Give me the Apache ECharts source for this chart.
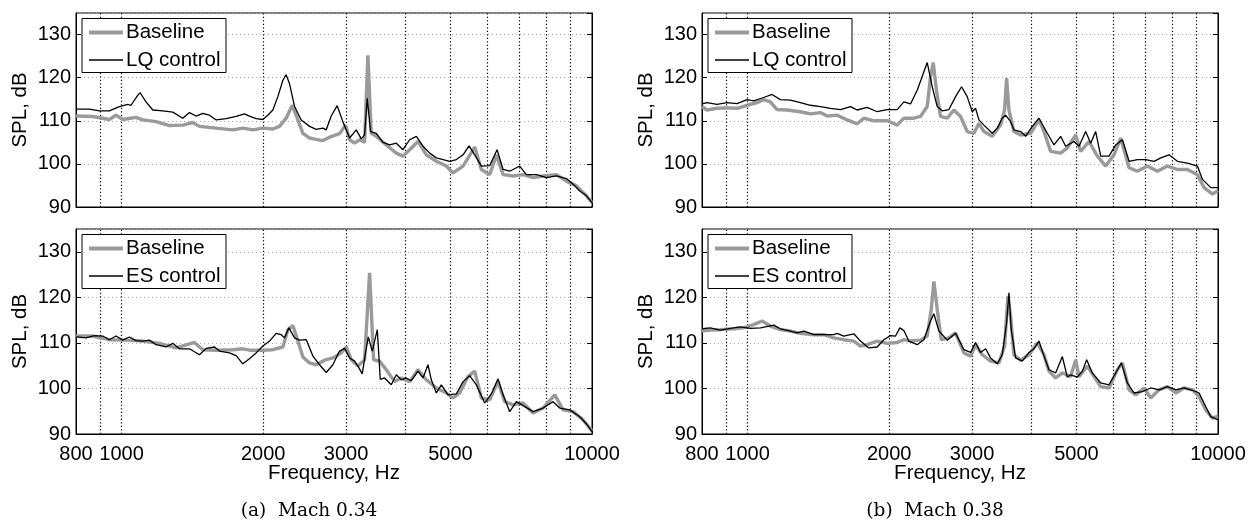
<!DOCTYPE html>
<html><head><meta charset="utf-8">
<script src="https://cdn.jsdelivr.net/npm/echarts@6/dist/echarts.min.js"></script>
<style>html,body{margin:0;padding:0;background:#fff}#c{width:1257px;height:523px}</style>
</head><body><div id="c"></div>
<script>
// ---------- data (frequency in Hz, SPL in dB) ----------
const tlBaseFreq = [800,868,942,973,1006,1073,1109,1184,1264,1349,1417,1464,1589,1724,1810,1901,1997,2097,2166,2238,2305,2370,2429,2510,2592,2678,2768,2906,2993,3053,3128,3207,3285,3339,3394,3479,3653,3837,3964,4096,4267,4445,4668,4902,5065,5320,5632,5819,6061,6263,6471,6793,7135,7494,7870,8402,8825,9266,9733,10000];
const tlBaseSpl = [111.1,111.0,110.3,111.3,110.3,110.8,110.2,109.8,108.9,109.0,109.6,108.7,108.3,107.9,108.3,107.9,108.3,108.1,108.7,110.6,113.6,110.2,107.1,106.0,105.7,105.4,106.2,107.0,109.0,105.6,104.8,105.6,105.0,125.2,107.1,106.4,104.4,102.5,101.8,103.3,105.2,102.1,100.6,99.5,97.9,99.5,103.9,98.7,97.5,102.1,97.5,97.2,97.5,96.8,97.2,97.5,96.0,94.9,92.6,91.0];
const tlLqFreq = [800,854,897,942,989,1031,1047,1082,1095,1127,1165,1223,1285,1349,1394,1440,1488,1537,1589,1668,1752,1825,1870,1932,1997,2046,2097,2149,2202,2238,2275,2332,2409,2510,2592,2678,2723,2790,2873,2954,3053,3154,3232,3285,3328,3383,3479,3594,3713,3837,3964,4096,4232,4373,4517,4668,4823,4983,5149,5320,5479,5632,5819,6061,6284,6471,6685,7019,7253,7618,8000,8402,8825,9116,9419,9733,10000];
const tlLqSpl = [112.7,112.7,112.3,112.3,113.3,113.8,113.6,115.9,116.5,114.4,112.5,112.3,112.0,110.6,111.9,111.1,111.7,111.3,110.2,110.5,111.0,111.6,111.1,110.5,110.3,111.3,112.5,115.6,119.4,120.7,118.6,113.3,110.2,108.7,108.0,108.3,107.9,111.1,113.5,109.8,106.0,107.9,105.8,106.7,115.2,107.5,107.1,105.0,104.4,104.8,103.3,105.6,106.4,104.1,102.5,101.4,101.0,100.6,101.0,102.1,104.2,102.1,99.5,99.6,103.3,98.7,98.3,99.5,97.5,97.5,96.8,97.2,96.6,95.3,93.7,92.6,91.0];

const blBaseFreq = [800,868,942,1022,1109,1204,1306,1428,1488,1589,1724,1810,1870,1997,2097,2202,2257,2313,2370,2429,2510,2592,2701,2813,2930,3003,3078,3180,3285,3367,3433,3536,3653,3805,3932,4096,4267,4445,4668,4902,5065,5232,5450,5632,5819,6061,6313,6523,6793,7135,7494,7870,8333,8681,9116,9574,10000];
const blBaseSpl = [111.5,111.5,110.7,110.6,110.4,109.9,108.9,110.1,108.5,108.4,108.5,108.7,108.4,108.4,108.5,109.1,112.9,113.8,110.4,106.9,105.6,105.2,106.2,106.7,107.8,109.1,106.3,104.9,106.3,125.4,106.3,106.0,104.1,101.5,102.3,101.5,104.1,101.9,100.1,99.0,97.9,99.0,102.6,103.8,97.9,97.5,101.5,97.1,96.4,96.8,94.6,95.7,98.6,95.3,94.9,93.1,90.7];
const blEsFreq = [800,840,875,912,942,973,1006,1039,1073,1109,1146,1184,1243,1285,1327,1394,1464,1513,1576,1615,1696,1752,1810,1870,1932,1997,2063,2131,2184,2220,2268,2332,2389,2469,2551,2635,2723,2813,2906,2979,3053,3128,3180,3248,3301,3345,3411,3496,3547,3623,3744,3837,3932,4029,4129,4267,4373,4480,4554,4668,4783,4942,5149,5320,5495,5677,5914,6110,6313,6471,6685,6907,7194,7494,7870,8266,8540,8969,9419,9733,10000];
const blEsSpl = [111.3,111.1,111.6,111.5,110.7,111.5,110.6,111.3,110.5,110.4,110.6,109.6,109.1,109.9,108.7,108.7,107.4,108.8,109.1,108.2,107.8,107.2,105.4,106.5,107.8,109.3,110.4,112.1,111.8,111.1,113.3,111.1,110.6,110.7,107.1,105.2,103.5,105.2,108.2,108.8,106.7,106.0,104.9,103.2,107.8,111.3,108.2,112.9,102.0,102.3,100.8,103.0,101.9,102.3,101.7,103.8,102.3,105.2,101.9,99.0,100.8,98.6,98.8,101.5,102.8,100.8,96.8,98.8,102.1,98.6,94.9,97.1,96.0,94.9,95.7,97.1,95.7,95.3,93.8,92.2,90.5];

const trBaseFreq = [800,820,861,904,950,997,1047,1082,1118,1155,1213,1295,1360,1428,1476,1550,1628,1710,1766,1855,1980,2080,2149,2257,2331,2409,2448,2481,2521,2571,2657,2745,2836,2930,3028,3103,3180,3312,3450,3518,3553,3594,3683,3805,3996,4163,4267,4408,4629,4783,4983,5106,5319,5540,5771,6011,6211,6471,6739,7078,7433,7806,8198,8610,9042,9343,9732,10000];
const trBaseSpl = [113.3,112.5,112.9,113.0,112.9,113.6,114.2,114.9,114.4,112.6,112.5,112.1,111.6,111.9,111.1,111.3,110.2,109.3,110.6,110.0,110.0,109.0,110.6,110.6,111.0,113.3,120.2,123.5,117.1,111.0,110.6,112.5,111.0,107.5,107.1,109.4,107.5,106.4,109.0,112.5,119.9,112.5,107.5,106.7,107.1,110.2,107.5,102.9,102.5,103.7,106.7,102.9,105.2,101.8,99.5,102.1,106.0,99.1,98.3,99.5,98.3,99.5,98.7,98.7,97.5,94.5,93.0,93.8];
const trLqFreq = [800,820,861,904,950,997,1030,1082,1127,1174,1233,1295,1360,1428,1500,1576,1655,1710,1795,1886,1980,2080,2149,2220,2294,2362,2409,2469,2530,2593,2679,2768,2850,2930,3003,3052,3103,3180,3312,3394,3478,3536,3623,3683,3805,3900,4029,4163,4336,4480,4629,4744,4942,5065,5232,5362,5495,5632,5866,6061,6263,6471,6739,7019,7313,7556,7870,8198,8610,9042,9266,9653,10000];
const trLqSpl = [113.9,114.2,113.8,114.2,114.0,114.9,114.6,115.4,116.1,114.9,114.8,114.2,113.6,113.3,112.9,112.6,113.3,112.5,113.1,112.1,112.6,112.6,114.4,113.9,117.1,120.9,123.5,117.9,113.3,112.3,112.6,115.6,117.9,115.6,112.1,112.9,110.2,109.0,107.1,108.3,110.6,111.3,109.8,107.9,107.5,106.4,108.7,110.6,107.1,104.4,106.4,104.1,105.2,104.1,107.5,104.8,107.5,101.8,101.8,104.4,105.6,100.6,101.0,101.0,100.6,101.4,102.1,100.6,100.2,99.5,96.4,94.5,94.5];

const brBaseFreq = [800,833,875,934,981,1030,1073,1118,1174,1233,1295,1383,1452,1525,1601,1682,1738,1795,1886,1980,2080,2149,2220,2331,2409,2457,2489,2530,2580,2679,2768,2883,2979,3052,3154,3285,3422,3518,3576,3623,3683,3805,3964,4129,4267,4373,4517,4668,4862,4983,5065,5275,5450,5632,5866,6110,6263,6471,6685,6963,7194,7494,7806,8132,8470,8824,9117,9419,9732,10000];
const brBaseSpl = [112.6,112.8,112.9,113.1,113.3,114.0,114.8,113.7,112.9,112.6,112.1,111.8,111.8,111.1,110.7,110.4,109.3,109.6,110.4,109.9,110.1,110.7,110.4,110.6,111.5,117.4,123.5,117.4,110.7,111.1,112.2,107.8,107.1,109.6,107.4,106.0,105.6,109.3,120.3,115.9,107.4,106.2,107.4,110.0,107.4,103.8,102.3,103.4,102.6,106.3,102.6,104.9,102.6,100.4,100.1,104.1,105.6,99.7,98.6,100.1,97.9,99.7,100.4,99.0,100.1,99.7,98.2,95.3,93.5,93.9];
const brEsFreq = [800,833,875,919,965,1014,1065,1137,1174,1233,1274,1317,1383,1452,1525,1550,1601,1682,1738,1810,1886,1948,2013,2063,2107,2149,2202,2294,2370,2448,2489,2551,2657,2768,2883,2979,3052,3128,3207,3285,3394,3478,3553,3594,3635,3713,3837,3964,4062,4163,4267,4373,4517,4668,4783,4862,5023,5149,5258,5406,5632,5866,6061,6231,6417,6630,6907,7194,7494,7806,8132,8470,8824,9117,9419,9653,10000];
const brEsSpl = [113.1,113.3,112.8,113.2,113.5,113.2,113.3,113.9,113.1,112.6,112.2,112.6,111.8,111.8,111.8,112.1,111.5,112.0,110.4,108.9,109.1,110.7,111.6,111.5,113.3,112.7,110.4,109.6,110.7,114.8,116.4,112.6,110.6,112.1,108.5,107.9,110.1,107.9,108.7,106.7,105.4,107.4,114.4,121.0,112.9,106.7,106.0,107.9,108.7,110.4,107.1,104.1,103.4,107.0,102.5,103.0,102.5,103.8,106.3,103.4,101.2,100.8,103.4,105.6,101.2,99.0,99.3,100.1,99.7,100.4,99.7,100.1,99.6,99.0,96.0,93.8,93.1];

const xTickLabels = [800, 1000, 2000, 3000, 5000, 10000];
const xGridValues = [900, 1000, 2000, 3000, 4000, 5000, 6000, 7000, 8000, 9000];
const yTickValues = [90, 100, 110, 120, 130];
const captions = ['(a)  Mach 0.34', '(b)  Mach 0.38'];

// ---------- layout ----------
const FONT = '"Liberation Sans", Arial, sans-serif';
const GRAY = '#9a9a9a';
const panels = [
  {left: 76,  top: 13,  width: 516, height: 194, bottom: false, base: [tlBaseFreq, tlBaseSpl], ctl: [tlLqFreq, tlLqSpl], ctlName: 'LQ control'},
  {left: 76,  top: 229, width: 516, height: 205, bottom: true,  base: [blBaseFreq, blBaseSpl], ctl: [blEsFreq, blEsSpl], ctlName: 'ES control'},
  {left: 702, top: 13,  width: 516, height: 194, bottom: false, base: [trBaseFreq, trBaseSpl], ctl: [trLqFreq, trLqSpl], ctlName: 'LQ control'},
  {left: 702, top: 229, width: 516, height: 205, bottom: true,  base: [brBaseFreq, brBaseSpl], ctl: [brEsFreq, brEsSpl], ctlName: 'ES control'}
];
const zip = (a, b) => a.slice(0, Math.min(a.length, b.length)).map((v, i) => [v, b[i]]);

const grid = [], xAxis = [], yAxis = [], series = [], graphic = [];
panels.forEach((p, i) => {
  grid.push({left: p.left, top: p.top, width: p.width, height: p.height, show: true, borderColor: '#000', borderWidth: 1, backgroundColor: 'transparent'});
  xAxis.push({
    type: 'log', logBase: 10, gridIndex: i, min: 800, max: 10000,
    axisLabel: {show: false}, axisTick: {show: false}, splitLine: {show: false},
    axisLine: {show: true, lineStyle: {color: '#000', width: 1}},
    name: p.bottom ? 'Frequency, Hz' : '', nameLocation: 'middle', nameGap: 29,
    nameTextStyle: {color: '#000', fontSize: 20.5, fontFamily: FONT}
  });
  yAxis.push({
    type: 'value', gridIndex: i, min: 90, max: 135, interval: 10,
    axisLabel: {color: '#000', fontSize: 20, fontFamily: FONT, margin: 5, showMaxLabel: false,
      formatter: v => yTickValues.indexOf(v) >= 0 ? String(v) : ''},
    axisTick: {show: true, inside: true, length: 5, lineStyle: {color: '#000'}},
    axisLine: {show: true, lineStyle: {color: '#000'}},
    splitLine: {show: true, lineStyle: {color: '#aaaaaa', type: [1, 3], width: 1}},
    name: 'SPL, dB', nameLocation: 'middle', nameGap: 45, nameRotate: 90,
    nameTextStyle: {color: '#000', fontSize: 20.5, fontFamily: FONT}
  });
  const mlData = xGridValues.map(v => ({xAxis: v}));
  if (p.bottom) {
    xTickLabels.forEach(v => mlData.push({
      xAxis: v, lineStyle: {color: 'rgba(0,0,0,0)', width: 0, type: 'solid'},
      label: {show: true, position: 'start', distance: 10, formatter: String(v), color: '#000', fontSize: 20, fontFamily: FONT}
    }));
  }
  series.push({
    name: 'Baseline', type: 'line', xAxisIndex: i, yAxisIndex: i, showSymbol: false, symbol: 'none',
    lineStyle: {color: GRAY, width: 3.4}, itemStyle: {color: GRAY}, z: 2,
    data: zip(p.base[0], p.base[1]),
    markLine: {silent: true, symbol: 'none', z: 1, animation: false, label: {show: false},
      lineStyle: {color: '#000', type: [1.3, 2.2], width: 1.2}, data: mlData}
  });
  series.push({
    name: p.ctlName, type: 'line', xAxisIndex: i, yAxisIndex: i, showSymbol: false, symbol: 'none',
    lineStyle: {color: '#000', width: 1.3}, itemStyle: {color: '#000'}, z: 3,
    data: zip(p.ctl[0], p.ctl[1])
  });
  // legend box
  const lx = p.left + 6, ly = p.top + 5.5;
  graphic.push({type: 'rect', z: 100, shape: {x: lx, y: ly, width: 144, height: 54}, style: {fill: '#fff', stroke: '#000', lineWidth: 1}});
  graphic.push({type: 'line', z: 101, shape: {x1: lx + 7, y1: ly + 14, x2: lx + 41, y2: ly + 14}, style: {stroke: GRAY, lineWidth: 4}});
  graphic.push({type: 'text', z: 101, x: lx + 44, y: ly + 14, style: {text: 'Baseline', fill: '#000', font: '20.5px ' + FONT, textVerticalAlign: 'middle', verticalAlign: 'middle'}});
  graphic.push({type: 'line', z: 101, shape: {x1: lx + 7, y1: ly + 41.5, x2: lx + 41, y2: ly + 41.5}, style: {stroke: '#000', lineWidth: 1.3}});
  graphic.push({type: 'text', z: 101, x: lx + 44, y: ly + 41.5, style: {text: p.ctlName, fill: '#000', font: '20.5px ' + FONT, textVerticalAlign: 'middle', verticalAlign: 'middle'}});
});
graphic.push({type: 'text', x: 309, y: 511, style: {text: captions[0], fill: '#000', font: '18.5px "DejaVu Serif", serif', textAlign: 'center', align: 'center', textVerticalAlign: 'middle', verticalAlign: 'middle'}});
graphic.push({type: 'text', x: 935, y: 511, style: {text: captions[1], fill: '#000', font: '18.5px "DejaVu Serif", serif', textAlign: 'center', align: 'center', textVerticalAlign: 'middle', verticalAlign: 'middle'}});
// right-side tick axes
panels.forEach((p, i) => {
  yAxis.push({type: 'value', gridIndex: i, position: 'right', min: 90, max: 135, interval: 10,
    axisLabel: {show: false}, splitLine: {show: false},
    axisTick: {show: true, inside: true, length: 5, lineStyle: {color: '#000'}},
    axisLine: {show: true, lineStyle: {color: '#000'}}});
});

const chart = echarts.init(document.getElementById('c'), null, {renderer: 'canvas'});
chart.setOption({animation: false, backgroundColor: '#fff', grid, xAxis, yAxis, series, graphic});
</script>
</body></html>
